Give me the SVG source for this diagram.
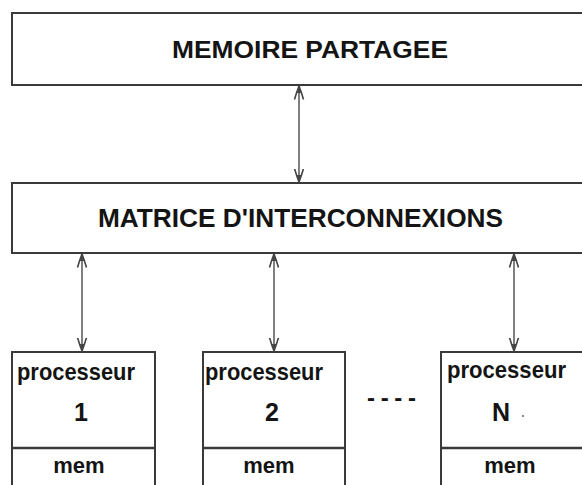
<svg xmlns="http://www.w3.org/2000/svg" width="582" height="485" viewBox="0 0 582 485">
  <defs>
    <style>
      .box { fill: #ffffff; stroke: #3a3a3a; stroke-width: 2; }
      .sep { stroke: #3a3a3a; stroke-width: 2.5; }
      .title { font-family: "Liberation Sans", Arial, sans-serif; font-weight: bold; fill: #141414; }
      .lbl { font-family: "Liberation Sans", Arial, sans-serif; font-weight: bold; fill: #141414; }
      .link { stroke: #555555; stroke-width: 1.5; fill: none; marker-start: url(#head); marker-end: url(#head); }
    </style>
    <!-- open V arrowhead with a small solid tip, used at both ends -->
    <marker id="head" viewBox="0 0 14 12" refX="13.5" refY="6" markerWidth="14" markerHeight="12" markerUnits="userSpaceOnUse" orient="auto-start-reverse">
      <path d="M0,1.5 Q7,3.5 13.5,6 Q7,8.5 0,10.5" fill="none" stroke="#444444" stroke-width="1.6"/>
      <path d="M6.5,3.8 L13.5,6 L6.5,8.2 Z" fill="#444444"/>
    </marker>
  </defs>

  <rect width="582" height="485" fill="#ffffff"/>

  <!-- shared memory -->
  <g id="memoire">
    <rect class="box" x="12" y="13" width="600" height="72"/>
    <text class="title" x="172" y="58" font-size="24" textLength="276" lengthAdjust="spacingAndGlyphs">MEMOIRE PARTAGEE</text>
  </g>

  <!-- interconnection matrix -->
  <g id="matrice">
    <rect class="box" x="12" y="183" width="600" height="70"/>
    <text class="title" x="98" y="227" font-size="26" textLength="405" lengthAdjust="spacingAndGlyphs">MATRICE D'INTERCONNEXIONS</text>
  </g>

  <!-- processors -->
  <g id="proc1">
    <rect class="box" x="12" y="352" width="143" height="140"/>
    <line class="sep" x1="12" y1="448" x2="155" y2="448"/>
    <text class="lbl" x="17" y="380" font-size="24" textLength="118" lengthAdjust="spacingAndGlyphs">processeur</text>
    <text class="lbl" x="81" y="421" font-size="25" text-anchor="middle">1</text>
    <text class="lbl" x="79" y="473" font-size="22" text-anchor="middle">mem</text>
  </g>

  <g id="proc2">
    <rect class="box" x="203" y="352" width="142" height="140"/>
    <line class="sep" x1="203" y1="448" x2="345" y2="448"/>
    <text class="lbl" x="205" y="380" font-size="24" textLength="118" lengthAdjust="spacingAndGlyphs">processeur</text>
    <text class="lbl" x="272" y="421" font-size="25" text-anchor="middle">2</text>
    <text class="lbl" x="269" y="473" font-size="22" text-anchor="middle">mem</text>
  </g>

  <g id="ellipsis">
    <text class="lbl" x="367" y="406" font-size="24" textLength="49" lengthAdjust="spacing">----</text>
  </g>

  <g id="procN">
    <rect class="box" x="441" y="352" width="160" height="140"/>
    <line class="sep" x1="441" y1="448" x2="601" y2="448"/>
    <text class="lbl" x="447" y="378" font-size="24" textLength="119" lengthAdjust="spacingAndGlyphs">processeur</text>
    <text class="lbl" x="501" y="421" font-size="25" text-anchor="middle">N</text>
    <circle cx="523" cy="416" r="0.9" fill="#555555"/>
    <text class="lbl" x="510" y="473" font-size="22" text-anchor="middle">mem</text>
  </g>

  <!-- bidirectional links -->
  <g id="connectors">
    <line class="link" x1="299" y1="86" x2="299" y2="182"/>
    <line class="link" x1="82" y1="254" x2="82" y2="351"/>
    <line class="link" x1="274" y1="254" x2="274" y2="351"/>
    <line class="link" x1="514" y1="254" x2="514" y2="351"/>
  </g>
</svg>
